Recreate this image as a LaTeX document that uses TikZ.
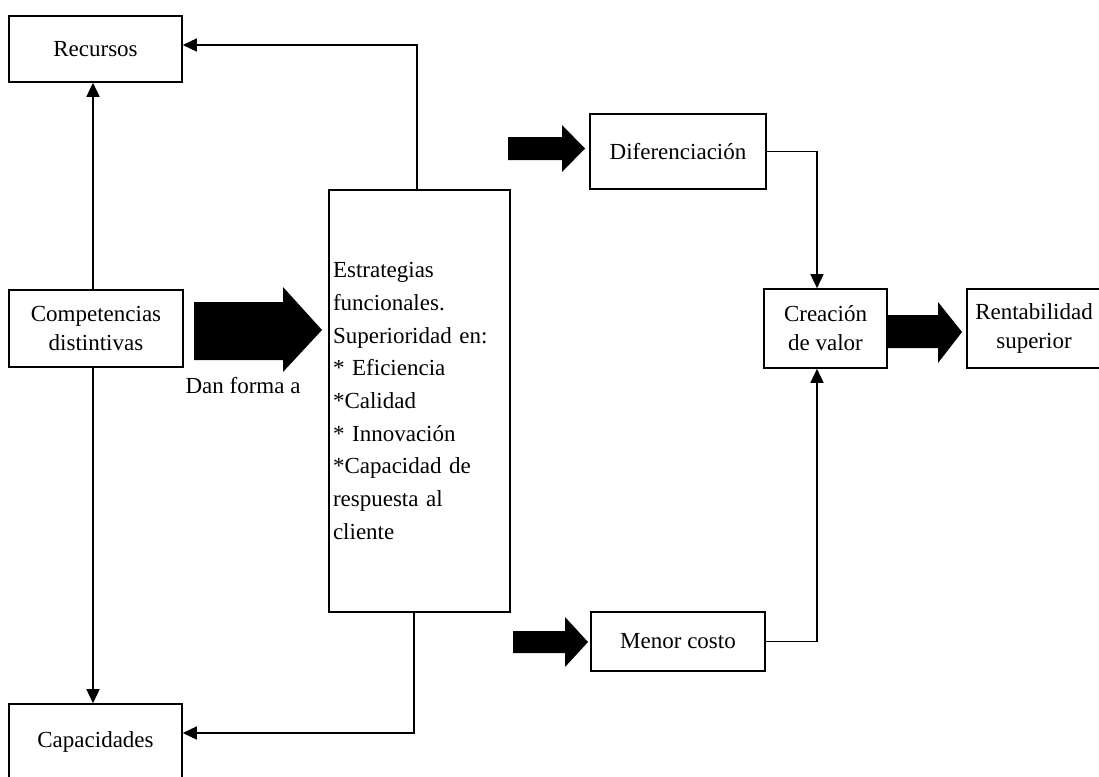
\documentclass[tikz,border=0pt]{standalone}
\usepackage{fontspec}
\setmainfont{Liberation Serif}
\usetikzlibrary{arrows.meta,calc}
\begin{document}
\begin{tikzpicture}[x=1pt,y=-1pt,
  box/.style={draw,line width=1.6pt,inner sep=0pt,align=center,
    font=\fontsize{23}{29}\selectfont},
  lbl/.style={inner sep=0pt,font=\fontsize{23}{29}\selectfont},
  arr/.style={line width=1.5pt,-{Triangle[length=14pt,width=13pt]}},
  ln/.style={line width=1.5pt},
  blk/.style={fill=black}]
\clip (0,0) rectangle (1099,776);
\useasboundingbox (0,0) rectangle (1099,776);

% boxes
\node[box,minimum width=173,minimum height=66] (rec) at (95.5,49) {Recursos};
\node[box,minimum width=174,minimum height=77] (comp) at (96,328.5) {Competencias\\distintivas};
\node[box,minimum width=173,minimum height=76] (cap) at (95.5,742) {Capacidades};
\node[box,minimum width=181,minimum height=422,text width=173,inner xsep=4,align=left,
      font=\fontsize{23}{32.7}\selectfont] (estr) at (419.5,401)
  {Estrategias\\funcionales.\\Superioridad en:\\{*} Eficiencia\\{*}Calidad\\{*} Innovación\\{*}Capacidad de\\respuesta al\\cliente};
\node[box,minimum width=176,minimum height=75] (dif) at (678,151.5) {Diferenciación};
\node[box,minimum width=123,minimum height=79] (crea) at (825.5,328.5) {Creación\\de valor};
\node[box,minimum width=134,minimum height=79] (rent) at (1034,328.5) {Rentabilidad\\superior};
\node[box,minimum width=174,minimum height=59] (men) at (678,641.5) {Menor costo};

\node[lbl] (dan) at (243,386) {Dan forma a};

% helper coordinates
\coordinate (vx) at (93,0);
\coordinate (ex) at (417,0);
\coordinate (ebx) at (414,0);
\coordinate (cx) at (817,0);

% connectors
\draw[arr] (vx |- comp.north) -- (vx |- rec.south);
\draw[arr] (vx |- comp.south) -- (vx |- cap.north);
\draw[arr] (ex |- estr.north) |- ($(rec.east)+(0,-4)$);
\draw[arr] (ebx |- estr.south) |- ($(cap.east)+(0,-9)$);
\draw[arr] (dif.east) -| (cx |- crea.north);
\draw[arr] (men.east) -| (cx |- crea.south);

% block arrows
\fill[blk] (194,302) -- (283,302) -- (283,287) -- (322,330) -- (283,372) -- (283,360) -- (194,360) -- cycle;
\fill[blk] (508,137) -- (562,137) -- (562,125) -- (585,148.5) -- (562,172) -- (562,160) -- (508,160) -- cycle;
\fill[blk] (513,631) -- (565,631) -- (565,617) -- (588,642) -- (565,667) -- (565,653) -- (513,653) -- cycle;
\fill[blk] (887,315) -- (938,315) -- (938,302) -- (962,332) -- (938,363) -- (938,348) -- (887,348) -- cycle;
\end{tikzpicture}
\end{document}
